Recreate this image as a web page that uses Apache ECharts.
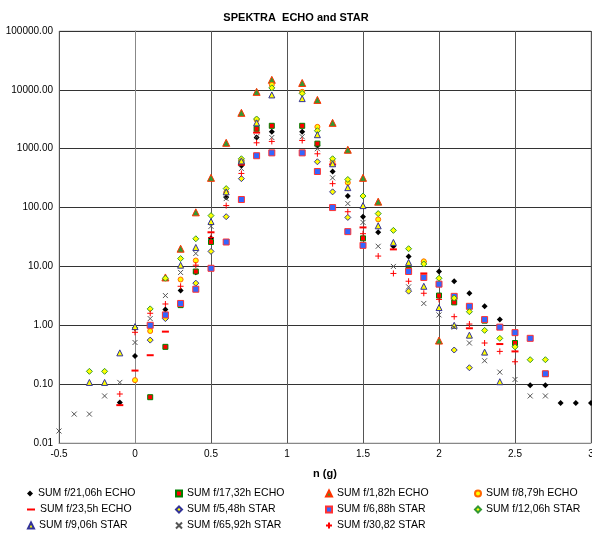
<!DOCTYPE html>
<html>
<head>
<meta charset="utf-8">
<script src="https://cdn.jsdelivr.net/npm/echarts@6/dist/echarts.min.js"></script>
<style>
html,body{margin:0;padding:0;background:#fff;}
#chart{width:592px;height:535px;}
</style>
</head>
<body>
<div id="chart"></div>
<script>
var _ = null;
// n (g) positions, one column every 0.1
var xs = [-0.5,-0.4,-0.3,-0.2,-0.1,0,0.1,0.2,0.3,0.4,0.5,0.6,0.7,0.8,0.9,1.0,1.1,1.2,1.3,1.4,1.5,1.6,1.7,1.8,1.9,2.0,2.1,2.2,2.3,2.4,2.5,2.6,2.7,2.8,2.9,3.0];
var yTicks = [0.01,0.1,1,10,100,1000,10000,100000];

var s2106 = [_,_,_,_,0.049,0.30,1.0,1.85,3.9,8,30,150,520,1550,1950,_,1950,1150,410,157,70,38,22,14.8,12,8.2,5.6,3.5,2.1,1.25,_,0.096,0.096,0.048,0.048,0.048];
var s1732 = [_,_,_,_,_,_,0.06,0.43,2.2,8.2,26,_,580,2180,2450,_,2450,1220,_,_,30,_,_,8.9,_,3.2,2.45,_,1.2,_,0.5,_,0.15,_,_,_];
var s182  = [_,_,_,_,_,_,_,6.5,20,83,320,1260,4070,9250,14800,_,13100,6750,2750,960,320,126,_,_,_,0.55,_,_,_,_,_,_,_,_,_,_];
var s879  = [_,_,_,_,_,0.117,0.8,_,6.0,12.6,_,180,640,3100,12200,_,9250,2350,600,265,_,63,_,_,12.2,_,_,_,_,_,_,_,_,_,_,_];
var s235  = [_,_,_,_,0.044,0.17,0.31,0.78,_,_,38,_,535,1880,_,_,_,_,540,_,46,_,19.5,_,7.6,_,_,0.89,_,0.48,0.36,_,_,_,_,_];
var s548  = [_,_,_,_,_,_,0.56,1.3,_,5.2,18,70,310,_,_,_,_,600,185,68,_,_,_,3.8,_,_,0.38,0.19,_,_,_,_,_,_,_,_];
var s688  = [_,_,_,_,_,_,1.0,1.5,2.35,4.1,9.3,26,137,760,850,_,850,410,100,39,22.8,_,_,8.2,6.5,5.0,3.1,2.1,1.25,0.93,0.75,0.6,0.15,_,_,_];
var s1206 = [_,_,0.165,0.165,_,0.9,1.9,6.3,13.6,29.5,73,210,675,3200,10800,_,8700,2020,675,300,157,79,41,20,11,6.3,2.9,1.7,0.82,0.6,0.43,0.26,0.26,_,_,_];
var s906  = [_,_,0.107,0.107,0.34,0.95,_,_,10.5,21,58,185,620,2750,8200,_,7100,1730,555,218,108,49,25.6,11.7,4.6,2.0,1.0,0.68,0.35,0.11,_,_,_,_,_,_];
var s6592 = [0.016,0.031,0.031,0.063,0.107,0.51,1.3,3.2,7.9,16.6,48,142,460,1600,1550,_,1600,1000,320,117,56,22,10,4.5,2.35,1.5,0.93,0.5,0.25,0.16,0.12,0.063,0.063,_,_,_];
var s3082 = [_,_,_,_,0.068,0.76,1.6,2.3,4.6,10.5,31,108,380,1260,1330,_,1380,820,255,85,36,15,7.6,5.6,3.5,2.75,1.4,1.05,0.5,0.36,0.24,_,_,_,_,_];

var names = ['SUM f/21,06h ECHO','SUM f/17,32h ECHO','SUM f/1,82h ECHO','SUM f/8,79h ECHO',
	'SUM f/23,5h ECHO','SUM f/5,48h STAR','SUM f/6,88h STAR','SUM f/12,06h STAR',
	'SUM f/9,06h STAR','SUM f/65,92h STAR','SUM f/30,82 STAR'];
var values = [s2106,s1732,s182,s879,s235,s548,s688,s1206,s906,s6592,s3082];

var crossPath = 'path://M0,0L8,8M8,0L0,8';
var plusPath = 'path://M4,0L4,8M0,4L8,4';
// marker look of each series, same order as names
var looks = [
	{symbol:'diamond', size:6, color:'#000000', border:'#000000', bw:0},
	{symbol:'rect', size:5, color:'#ff0000', border:'#008000', bw:1},
	{symbol:'triangle', size:7, color:'#339933', border:'#ff3300', bw:1},
	{symbol:'circle', size:5, color:'#ffff00', border:'#ff6600', bw:1},
	{symbol:'rect', size:[7,2], color:'#ff0000', border:'#ff0000', bw:0},
	{symbol:'diamond', size:6, color:'#ffff00', border:'#333399', bw:1},
	{symbol:'rect', size:6, color:'#3366ff', border:'#ff3333', bw:1},
	{symbol:'diamond', size:6, color:'#ffff00', border:'#339933', bw:1},
	{symbol:'triangle', size:6, color:'#ffff00', border:'#333399', bw:1},
	{symbol:crossPath, size:5, color:'#555555', border:'#555555', bw:1},
	{symbol:plusPath, size:6, color:'#ff0000', border:'#ff0000', bw:1}
];

function pairs(arr){
	var out=[];
	for(var i=0;i<xs.length;i++){
		if(arr[i]!==null) out.push([xs[i],arr[i]]);
	}
	return out;
}

var series=[];
var legends=[];
var legendCols=[27,175,325,474];
var legendRows=[488,504,520];
for(var i=0;i<names.length;i++){
	var lk=looks[i];
	series.push({
		name:names[i],
		type:'scatter',
		data:pairs(values[i]),
		symbol:lk.symbol,
		symbolSize:lk.size,
		itemStyle:{color:lk.color,borderColor:lk.border,borderWidth:lk.bw,opacity:1},
		emphasis:{disabled:true},
		z:2+i
	});
	var isDash=(i==4);
	legends.push({
		data:[names[i]],
		left:legendCols[i%4],
		top:legendRows[Math.floor(i/4)],
		padding:0,
		itemWidth:isDash?8:6,
		itemHeight:isDash?2:6,
		itemGap:0,
		selectedMode:false,
		textStyle:{fontFamily:'Liberation Sans, Arial',fontSize:10.5,color:'#000'}
	});
}

var chart=echarts.init(document.getElementById('chart'),null,{renderer:'canvas'});
chart.setOption({
	animation:false,
	backgroundColor:'#ffffff',
	title:{
		text:'SPEKTRA  ECHO and STAR',
		left:'center',
		top:7,
		textStyle:{fontFamily:'Liberation Sans, Arial',fontSize:11,fontWeight:'bold',color:'#000'}
	},
	legend:legends,
	grid:{left:59,right:1,top:31,bottom:92,containLabel:false,outerBoundsMode:'none',show:true,borderColor:'#c0c0c0',borderWidth:1},
	xAxis:{
		type:'value',
		min:-0.5,max:3,interval:0.5,
		name:'n (g)',nameLocation:'middle',nameGap:25,
		nameTextStyle:{fontFamily:'Liberation Sans, Arial',fontSize:11,fontWeight:'bold',color:'#000'},
		axisLine:{show:true,onZero:false,lineStyle:{color:'#888'}},
		axisTick:{show:false},
		axisLabel:{fontFamily:'Liberation Sans, Arial',fontSize:10,color:'#000',margin:6},
		splitLine:{show:true,lineStyle:{color:'#555',width:1}}
	},
	yAxis:{
		type:'log',logBase:10,
		min:yTicks[0],max:yTicks[yTicks.length-1],
		name:'SUM f/1h',nameLocation:'middle',nameGap:42,nameRotate:90,
		nameTextStyle:{fontFamily:'Liberation Sans, Arial',fontSize:11,fontWeight:'bold',color:'#000'},
		axisLine:{show:true,lineStyle:{color:'#888'}},
		axisTick:{show:false},
		axisLabel:{fontFamily:'Liberation Sans, Arial',fontSize:10,color:'#000',margin:6,
			formatter:function(v){return Number(v).toFixed(2);}},
		splitLine:{show:true,lineStyle:{color:'#333',width:1}}
	},
	series:series
});
</script>
</body>
</html>
